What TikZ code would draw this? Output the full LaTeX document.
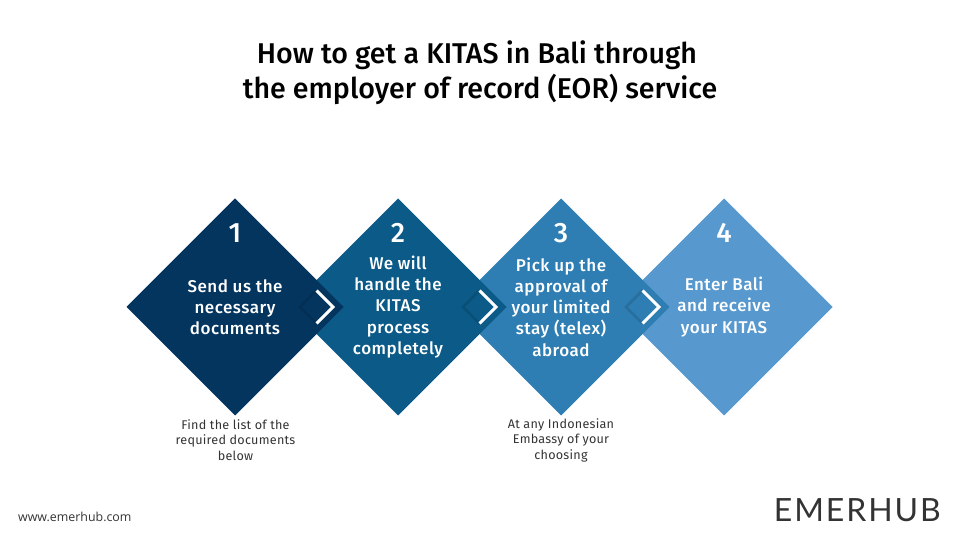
\documentclass[tikz,border=0pt]{standalone}
\usepackage{fontspec}
\setmainfont[LetterSpace=2]{Fira Sans}
\newfontfamily\headfont{Fira Sans Medium}
\newfontfamily\stepfont[LetterSpace=3]{Fira Sans Medium}
\newfontfamily\logofont[LetterSpace=6]{Lato}
\newfontfamily\webfont{Open Sans}
\usetikzlibrary{positioning}
\usetikzlibrary{calc}
\usetikzlibrary{shapes.geometric}
\definecolor{stepone}{HTML}{03355F}
\definecolor{steptwo}{HTML}{0B5A88}
\definecolor{stepthree}{HTML}{2E7EB3}
\definecolor{stepfour}{HTML}{5799CF}
\definecolor{inkgrey}{HTML}{333333}

\begin{document}
\begin{tikzpicture}[x=1pt, y=1pt, align=center,
        stepbox/.style={diamond, aspect=1, minimum width=217pt, minimum height=217pt, inner sep=0pt, outer sep=0pt},
        chevron/.style={diamond, aspect=1, minimum width=33pt, minimum height=33pt, inner sep=0pt, outer sep=0pt},
        number/.style={text=white, font=\headfont\fontsize{28}{28}\selectfont},
        label/.style={text=white, font=\stepfont\fontsize{17}{21.2}\selectfont},
        note/.style={text=inkgrey, font=\fontsize{12.6}{15.5}\selectfont}]
        \useasboundingbox (0,0) rectangle (960,540);

        \node[text=black, font=\headfont\fontsize{28.6}{35}\selectfont] (title) at (480,467) {How to get a KITAS in Bali through\hspace*{6pt}\\the employer of record (EOR) service};

        \node[stepbox, fill=stepfour] (dfour) at (724,233) {};
        \node[stepbox, fill=stepthree, left=-54pt of dfour] (dthree) {};
        \node[stepbox, fill=steptwo, left=-54pt of dthree] (dtwo) {};
        \node[stepbox, fill=stepone, left=-54pt of dtwo] (done) {};

        \node[number, above=74pt of done.center, anchor=center] (none) {1};
        \node[number, above=74pt of dtwo.center, anchor=center] (ntwo) {2};
        \node[number, above=74pt of dthree.center, anchor=center] (nthree) {3};
        \node[number, above=74pt of dfour.center, anchor=center] (nfour) {4};

        \node[label] (lone) at (done) {Send us the\\necessary\\documents};
        \node[label] (ltwo) at (dtwo) {We will\\handle the\\KITAS\\process\\completely};
        \node[label] (lthree) at (dthree) {Pick up the\\approval of\\your limited\\stay (telex)\\abroad};
        \node[label] (lfour) at (dfour) {Enter Bali\\and receive\\your KITAS};

        \node[chevron] (cone) at ($(done)!.5!(dtwo)$) {};
        \node[chevron] (ctwo) at ($(dtwo)!.5!(dthree)$) {};
        \node[chevron] (cthree) at ($(dthree)!.5!(dfour)$) {};

        \draw[stepone!88!black, line width=2.6pt] (cone.north) -- (cone.west) -- (cone.south);
        \draw[steptwo!88!black, line width=2.6pt] (ctwo.north) -- (ctwo.west) -- (ctwo.south);
        \draw[stepthree!88!black, line width=2.6pt] (cthree.north) -- (cthree.west) -- (cthree.south);
        \draw[white, line width=3pt] (cone.north) -- (cone.east) -- (cone.south);
        \draw[white, line width=3pt] (ctwo.north) -- (ctwo.east) -- (ctwo.south);
        \draw[white, line width=3pt] (cthree.north) -- (cthree.east) -- (cthree.south);

        \node[note] (nleft) at (235.5,100) {Find the list of the\\required documents\\below};
        \node[note] (nright) at (561,100) {At any Indonesian\\Embassy of your\\choosing};

        \node[text=inkgrey, font=\webfont\fontsize{12.4}{14}\selectfont, anchor=west, inner sep=0pt] (web) at (18,23) {www.emerhub.com};
        \node[text=inkgrey, font=\logofont\fontsize{32}{32}\selectfont, anchor=east, inner sep=0pt] (logo) at (941,30) {EMERHUB};
    \end{tikzpicture}
\end{document}
